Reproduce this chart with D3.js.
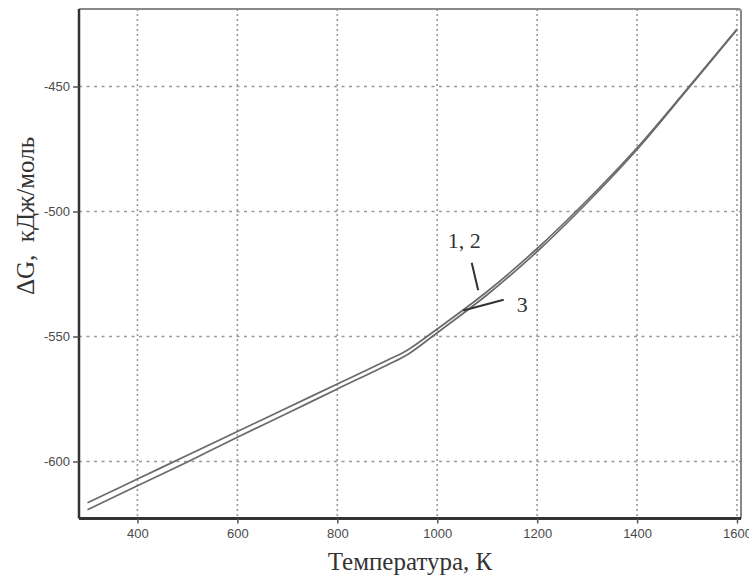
<!DOCTYPE html>
<meta charset="UTF-8">
<html>
<head>
<script src="https://d3js.org/d3.v7.min.js"></script>
<style>
  body { margin: 0; background: #fff; }
  svg { display: block; }
  .tick text { font-family: "Liberation Sans", Arial, sans-serif; font-size: 13px; fill: #4a4a4a; }
  .ttl { font-family: "Liberation Serif", "Times New Roman", serif; fill: #333; }
</style>
</head>
<body>
<svg id="chart" width="749" height="578"></svg>
<script>
// temperature, K
var temps = [300, 400, 500, 600, 700, 800, 900, 940, 1000, 1100, 1200, 1300, 1400, 1500, 1600];
// dG, kJ/mol, curves 1,2
var dg12 = [-616.5, -607, -597.5, -588, -578.5, -569, -559.5, -555.5, -547, -532, -514.8, -495.5, -474.5, -451, -427];
// curve 3
var dg3 = [-619.3, -609.7, -600.2, -590.3, -580.7, -571, -561.4, -557.3, -548.5, -533.3, -516, -496.5, -475.2, -451.4, -427.3];
var xTicks = [400, 600, 800, 1000, 1200, 1400, 1600];
var yTicks = [-450, -500, -550, -600];

var svg = d3.select('#chart');
var m = {left: 79, top: 9, right: 8, bottom: 59.5};
var W = 749 - m.left - m.right, H = 578 - m.top - m.bottom;

var x = d3.scaleLinear().domain([283, 1608]).range([0, W]);
var y = d3.scaleLinear().domain([-622.8, -419]).range([H, 0]);

var g = svg.append('g').attr('transform', 'translate(' + m.left + ',' + m.top + ')');

// grid
g.selectAll('.vg').data(xTicks).enter().append('line')
  .attr('x1', d => x(d)).attr('x2', d => x(d)).attr('y1', 0).attr('y2', H)
  .attr('stroke', '#999').attr('stroke-width', 1.6).attr('stroke-dasharray', '2,3');
g.selectAll('.hg').data(yTicks).enter().append('line')
  .attr('y1', d => y(d)).attr('y2', d => y(d)).attr('x1', 0).attr('x2', W)
  .attr('stroke', '#999').attr('stroke-width', 1.6).attr('stroke-dasharray', '3,4.5');

// frame (top / right)
g.append('path')
  .attr('d', 'M0,0 H' + (W - 3) + ' Q' + W + ',0 ' + W + ',3 V' + H)
  .attr('fill', 'none').attr('stroke', '#888').attr('stroke-width', 2);

// curves
var line = d3.line().curve(d3.curveCatmullRom.alpha(0.5))
  .x(d => x(d[0])).y(d => y(d[1]));
[dg12, dg3].forEach(function (s) {
  g.append('path')
    .datum(temps.map((t, i) => [t, s[i]]))
    .attr('d', line)
    .attr('fill', 'none').attr('stroke', '#6a6a6a').attr('stroke-width', 1.7);
});

// axes
var xa = g.append('g').attr('transform', 'translate(0,' + H + ')')
  .call(d3.axisBottom(x).tickValues(xTicks).tickSize(5).tickPadding(5).tickFormat(d => String(d)));
var ya = g.append('g')
  .call(d3.axisLeft(y).tickValues(yTicks).tickSize(6).tickPadding(3).tickFormat(d => String(d)));
xa.select('.domain').attr('stroke', '#333').attr('stroke-width', 3).attr('d', 'M0,0H' + W);
ya.select('.domain').attr('stroke', '#333').attr('stroke-width', 2.5).attr('d', 'M0,' + H + 'V0');
svg.selectAll('.tick line').attr('stroke', '#555').attr('stroke-width', 1.5);

// titles
svg.append('text').attr('class', 'ttl')
  .attr('x', 410).attr('y', 570).attr('text-anchor', 'middle')
  .style('font-size', '25px').text('Температура, К');
svg.append('text').attr('class', 'ttl')
  .attr('transform', 'translate(34,216) rotate(-90)').attr('text-anchor', 'middle')
  .style('font-size', '25px').style('white-space', 'pre').text('ΔG,  кДж/моль');

// curve labels
var labels = [
  {text: '1, 2', tx: 1021, ty: -514.5, from: [1069, -520.5], to: [1082, -531.5]},
  {text: '3', tx: 1159, ty: -540.2, from: [1133, -535.3], to: [1052, -539.6]}
];
labels.forEach(function (l) {
  g.append('line')
    .attr('x1', x(l.from[0])).attr('y1', y(l.from[1]))
    .attr('x2', x(l.to[0])).attr('y2', y(l.to[1]))
    .attr('stroke', '#333').attr('stroke-width', 2);
  g.append('text').attr('class', 'ttl')
    .attr('x', x(l.tx)).attr('y', y(l.ty))
    .style('font-size', '22px').text(l.text);
});
</script>
</body>
</html>
